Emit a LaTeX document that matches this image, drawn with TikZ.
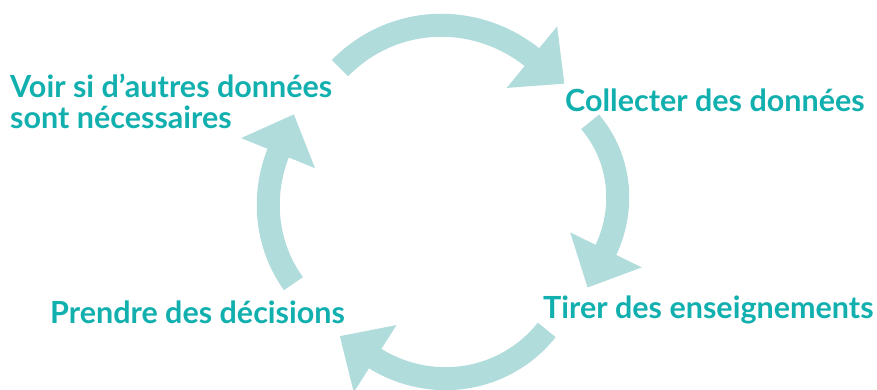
\documentclass[tikz,border=0pt]{standalone}
\usepackage{fontspec}
\setmainfont{Lato}
\usetikzlibrary{arrows.meta}
\definecolor{stepcol}{HTML}{12AFAF}
\definecolor{cyclecol}{HTML}{B0DCDC}
\begin{document}
\begin{tikzpicture}[
  x=1pt, y=1pt,
  label/.style={inner sep=0pt, anchor=base west, text=stepcol, align=left, font=\fontsize{30.5}{31}\selectfont\bfseries},
  cycle/.style={draw=cyclecol, line width=23pt, -{Triangle[width=77pt, length=42pt]}, shorten >=-42pt}
]
\useasboundingbox (0,0) rectangle (877,389);
\coordinate (ctop) at (442,222);
\coordinate (cright) at (500,191);
\coordinate (cbottom) at (445,140);
\coordinate (cleft) at (404,184.5);
\node[label] (check) at (10,261) {Voir si d’autres données\\sont nécessaires};
\node[label] (collect) at (565,277) {Collecter des données};
\node[label] (learn) at (543,71) {Tirer des enseignements};
\node[label] (decide) at (50,66) {Prendre des décisions};
\draw[cycle] ([shift={(135.9:142)}]ctop) arc[start angle=135.9, end angle=50.7, radius=142];
\draw[cycle] ([shift={(40.2:118)}]cright) arc[start angle=40.2, end angle=-26.1, radius=118];
\draw[cycle] ([shift={(-38.5:130)}]cbottom) arc[start angle=-38.5, end angle=-122.5, radius=130];
\draw[cycle] ([shift={(215.6:136)}]cleft) arc[start angle=215.6, end angle=157.8, radius=136];
\end{tikzpicture}
\end{document}
